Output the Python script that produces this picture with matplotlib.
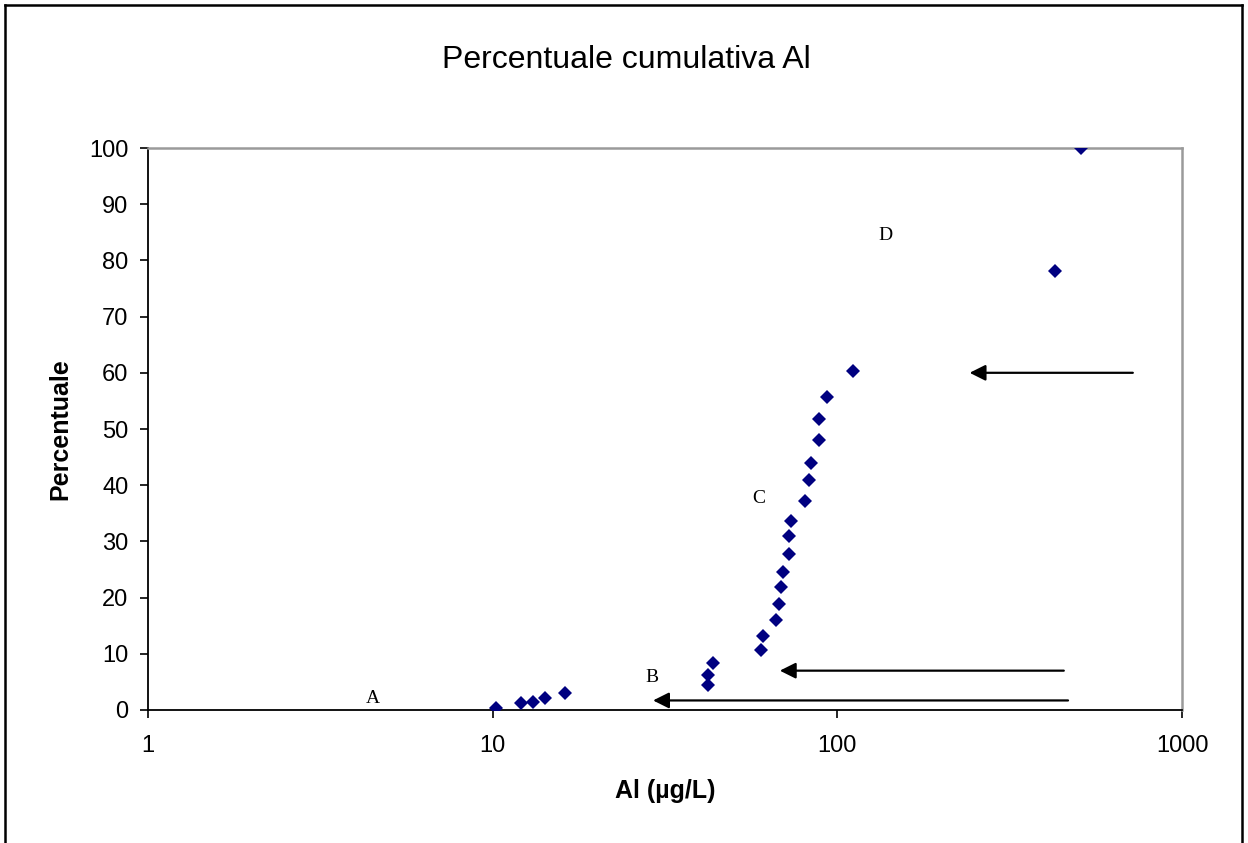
import matplotlib.pyplot as plt
from matplotlib.lines import Line2D

# cumulative percentile of Al concentrations
al_ugl = [10.2, 12.1, 13.1, 14.2, 16.2,
          42.2, 42.2, 43.6,
          60.0, 61.0, 66.3, 67.9, 68.8, 69.7, 72.3, 72.3, 73.2,
          80.5, 82.8, 83.8, 88.6, 88.6, 93.5, 110.7,
          428, 509]
percentile = [0.3, 1.2, 1.5, 2.2, 3.0,
              4.4, 6.3, 8.3,
              10.7, 13.2, 16.1, 18.9, 21.8, 24.6, 27.8, 31.0, 33.7,
              37.2, 40.9, 44.0, 48.0, 51.8, 55.7, 60.4,
              78.2, 100.0]

# group labels (x, y)
group_names = ["A", "B", "C", "D"]
group_x = [4.5, 29.0, 59.3, 138.0]
group_y = [2.0, 5.7, 37.7, 84.5]

# arrows: tail -> head
arrow_tail_x = [720, 454, 467]
arrow_head_x = [242, 68.1, 29.2]
arrow_y = [60.0, 7.0, 1.7]

x_ticks = [1, 10, 100, 1000]
y_ticks = list(range(0, 101, 10))

sans = ["Liberation Sans", "DejaVu Sans"]
serif = ["Liberation Serif", "DejaVu Serif"]

fig = plt.figure(figsize=(12.48, 8.43), dpi=100)
ax = fig.add_axes([148 / 1248, 133 / 843, 1034 / 1248, 562 / 843])

ax.plot(al_ugl, percentile, linestyle="None", marker="D", markersize=7.4,
        color="#000080", markeredgewidth=0, zorder=3)

for name, gx, gy in zip(group_names, group_x, group_y):
    ax.text(gx, gy, name, family=serif, fontsize=14, ha="center", va="center")

for tx, hx, ay in zip(arrow_tail_x, arrow_head_x, arrow_y):
    ax.annotate("", xy=(hx, ay), xytext=(tx, ay),
                arrowprops=dict(arrowstyle="-|>", color="black", lw=1.6,
                                mutation_scale=24, shrinkA=0, shrinkB=0))

ax.set_xscale("log")
ax.set_xlim(1, 1000)
ax.set_ylim(0, 100)
ax.set_xticks(x_ticks)
ax.set_xticklabels([str(t) for t in x_ticks])
ax.xaxis.set_minor_locator(plt.NullLocator())
ax.set_yticks(y_ticks)

for lbl in ax.get_xticklabels() + ax.get_yticklabels():
    lbl.set_family(sans)
    lbl.set_fontsize(17)

ax.tick_params(axis="both", direction="out", length=6, width=1.2, colors="black")
ax.tick_params(axis="x", pad=12)
ax.tick_params(axis="y", pad=8)

ax.spines["left"].set_color("black")
ax.spines["bottom"].set_color("black")
ax.spines["left"].set_linewidth(1.3)
ax.spines["bottom"].set_linewidth(1.3)
ax.spines["top"].set_color("#9a9a9a")
ax.spines["right"].set_color("#9a9a9a")
ax.spines["top"].set_linewidth(1.8)
ax.spines["right"].set_linewidth(1.8)

ax.set_xlabel("Al (µg/L)", family=sans, fontsize=18, fontweight="bold", labelpad=16)
ax.set_ylabel("Percentuale", family=sans, fontsize=18, fontweight="bold", labelpad=12)

fig.text(626 / 1248, 1 - 60 / 843, "Percentuale cumulativa Al", family=sans,
         fontsize=23, ha="center", va="center")

# outer chart frame (bottom edge is cut off)
frame_kw = dict(color="black", linewidth=1.8, transform=fig.transFigure)
fig.add_artist(Line2D([5 / 1248, 5 / 1248], [0, 1 - 5 / 843], **frame_kw))
fig.add_artist(Line2D([1242 / 1248, 1242 / 1248], [0, 1 - 5 / 843], **frame_kw))
fig.add_artist(Line2D([5 / 1248, 1242 / 1248], [1 - 5 / 843, 1 - 5 / 843], **frame_kw))

fig.savefig("out.png", dpi=100)
